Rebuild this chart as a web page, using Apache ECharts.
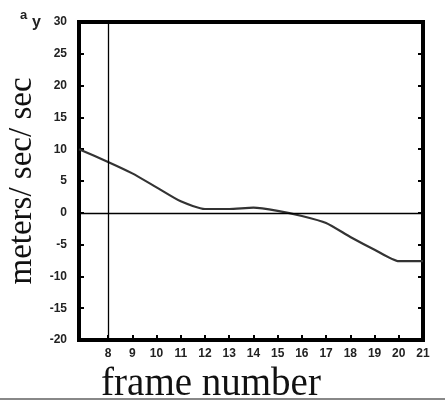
<!DOCTYPE html>
<html>
<head>
<meta charset="utf-8">
<script src="https://cdn.jsdelivr.net/npm/echarts@6/dist/echarts.min.js"></script>
<style>
  html, body { margin: 0; padding: 0; background: #fff; }
  #chart { width: 445px; height: 401px; }
</style>
</head>
<body>
<div id="chart"></div>
<script>
// frame numbers and acceleration
const frames = [6.8, 8, 9, 10, 11, 12, 13, 14, 15, 16, 17, 18, 19, 20, 21]
const accel = [10, 8, 6.2, 4, 1.8, 0.6, 0.6, 0.8, 0.3, -0.5, -1.6, -3.8, -5.8, -7.6, -7.6]
const frameTicks = [8, 9, 10, 11, 12, 13, 14, 15, 16, 17, 18, 19, 20, 21]
const markFrame = 8

const myChart = echarts.init(document.getElementById('chart'))

const labelFont = {
    fontFamily: 'Liberation Sans',
    fontWeight: 'bold',
    fontSize: 12,
    color: '#222'
}

const option = {
    animation: false,
    grid: {
        left: 79,
        right: 22,
        top: 22,
        bottom: 61,
        outerBoundsMode: 'none',
        show: true,
        borderWidth: 4,
        borderColor: '#000'
    },
    xAxis: {
        type: 'value',
        min: 6.8,
        max: 21,
        name: 'frame number',
        nameLocation: 'middle',
        nameGap: 23,
        nameTextStyle: {
            fontFamily: 'Liberation Serif',
            fontSize: 39,
            color: '#111',
            padding: [0, 80, 0, 0]
        },
        axisLine: { show: false, onZero: false },
        splitLine: { show: false },
        axisTick: {
            inside: true,
            length: 5,
            lineStyle: { color: '#000', width: 2 },
            customValues: frameTicks
        },
        axisLabel: Object.assign({ margin: 8, customValues: frameTicks }, labelFont)
    },
    yAxis: [
        {
            type: 'value',
            min: -20,
            max: 30,
            interval: 5,
            name: 'meters/ sec/ sec',
            nameLocation: 'middle',
            nameGap: 35,
            nameRotate: 90,
            nameTextStyle: {
                fontFamily: 'Liberation Serif',
                fontSize: 33,
                color: '#111'
            },
            axisLine: { show: false, onZero: false },
            splitLine: { show: false },
            axisTick: { inside: true, length: 5, lineStyle: { color: '#000', width: 2 } },
            axisLabel: Object.assign({ margin: 12 }, labelFont)
        },
        {
            type: 'value',
            min: -20,
            max: 30,
            interval: 5,
            position: 'right',
            axisLine: { show: false, onZero: false },
            splitLine: { show: false },
            axisTick: { inside: true, length: 5, lineStyle: { color: '#000', width: 2 } },
            axisLabel: { show: false }
        }
    ],
    series: [
        {
            type: 'line',
            data: frames.map((f, i) => [f, accel[i]]),
            showSymbol: false,
            smooth: 0.2,
            lineStyle: { color: '#333', width: 2.2 },
            markLine: {
                silent: true,
                symbol: 'none',
                label: { show: false },
                lineStyle: { color: '#000', width: 1.3, type: 'solid' },
                data: [{ xAxis: markFrame }, { yAxis: 0 }]
            }
        }
    ],
    graphic: [
        {
            type: 'text',
            left: 20,
            top: 9,
            style: { text: 'a', fontFamily: 'Liberation Sans', fontWeight: 'bold', fontSize: 13, fill: '#222' }
        },
        {
            type: 'text',
            left: 32,
            top: 15,
            style: { text: 'y', fontFamily: 'Liberation Sans', fontWeight: 'bold', fontSize: 16, fill: '#222' }
        },
        {
            type: 'rect',
            shape: { x: 0, y: 398, width: 445, height: 2 },
            style: { fill: '#888' }
        }
    ]
}

myChart.setOption(option)
</script>
</body>
</html>
